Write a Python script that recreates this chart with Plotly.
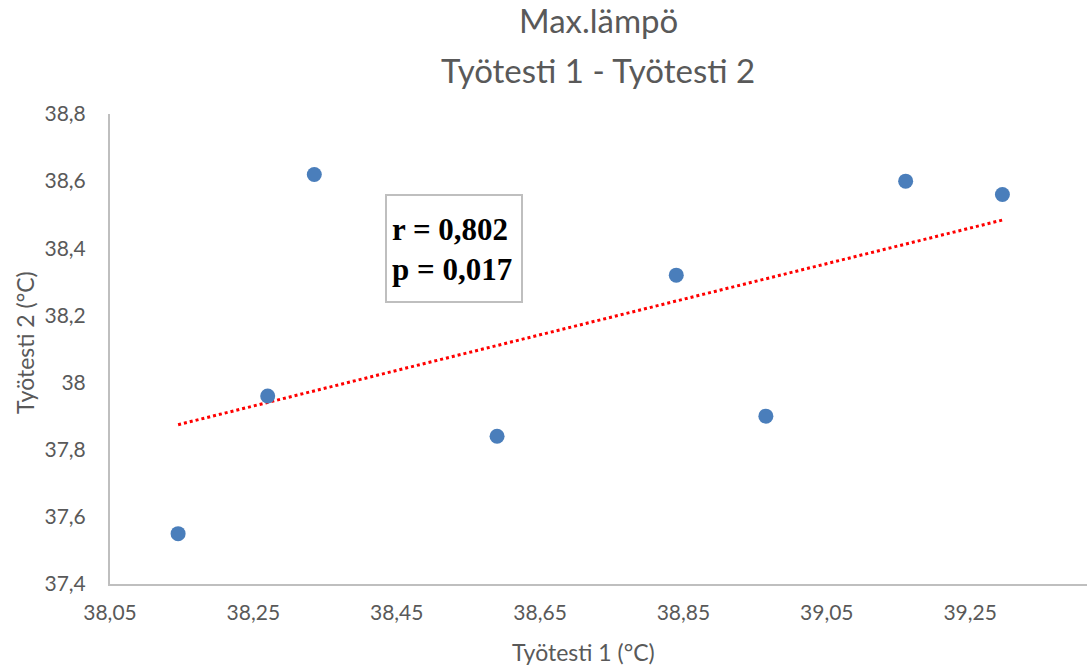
import numpy as np
import plotly.graph_objects as go

x_vals = [38.145, 38.27, 38.335, 38.59, 38.84, 38.965, 39.16, 39.295]
y_vals = [37.55, 37.96, 38.62, 37.84, 38.32, 37.90, 38.60, 38.56]
x_ticks = [38.05, 38.25, 38.45, 38.65, 38.85, 39.05, 39.25]
y_ticks = [37.4, 37.6, 37.8, 38.0, 38.2, 38.4, 38.6, 38.8]
title_lines = ["Max.lämpö", "Työtesti 1 - Työtesti 2"]
x_title = "Työtesti 1 (°C)"
y_title = "Työtesti 2 (°C)"
stats_text = ["r = 0,802", "p = 0,017"]

xa = np.array(x_vals)
ya = np.array(y_vals)
slope, intercept = np.polyfit(xa, ya, 1)
tx = np.array([xa.min(), xa.max()])
ty = slope * tx + intercept

fig = go.Figure()
fig.add_trace(go.Scatter(x=tx, y=ty, mode="lines",
                         line=dict(color="#FF0000", width=3, dash="dot"),
                         hoverinfo="skip", showlegend=False))
fig.add_trace(go.Scatter(x=x_vals, y=y_vals, mode="markers",
                         marker=dict(color="#4A7EBB", size=15),
                         showlegend=False))

font_main = "Lato, 'Open Sans', sans-serif"
grey = "#595959"
W, H, L, T, B = 1087, 671, 110, 114, 87
plot_h = H - T - B
plot_w = W - L


def px(xp):
    return (xp - L) / plot_w


def py(yp):
    return (H - B - yp) / plot_h


fig.update_layout(
    width=W, height=H,
    margin=dict(l=L, r=0, t=T, b=B),
    paper_bgcolor="white", plot_bgcolor="white",
    separators=", ",
    font=dict(family=font_main, color=grey, size=21),
    xaxis=dict(range=[38.05, 39.413], tickvals=x_ticks,
               ticktext=[f"{v:.2f}".replace(".", ",") for v in x_ticks],
               showgrid=False, zeroline=False, showline=True,
               linecolor="#BFBFBF", linewidth=2,
               ticks="outside", ticklen=9, tickcolor="rgba(0,0,0,0)",
               tickfont=dict(size=21, color=grey)),
    yaxis=dict(range=[37.4, 38.8], tickvals=y_ticks,
               ticktext=[(f"{v:.1f}".replace(".", ",") if abs(v - 38.0) > 1e-9 else "38") for v in y_ticks],
               showgrid=False, zeroline=False, showline=True,
               linecolor="#BFBFBF", linewidth=2,
               ticks="outside", ticklen=18, tickcolor="rgba(0,0,0,0)",
               tickfont=dict(size=21, color=grey)),
)

for txt, yp in zip(title_lines, [20, 70]):
    fig.add_annotation(x=px(598), y=py(yp), xref="paper", yref="paper",
                       xanchor="center", yanchor="middle", text=txt, showarrow=False,
                       font=dict(family=font_main, size=33, color=grey))

fig.add_annotation(x=px(583), y=py(652), xref="paper", yref="paper",
                   xanchor="center", yanchor="middle", text=x_title, showarrow=False,
                   font=dict(family=font_main, size=23, color=grey))
fig.add_annotation(x=px(25), y=py(343), xref="paper", yref="paper",
                   xanchor="center", yanchor="middle", text=y_title, showarrow=False,
                   textangle=-90, font=dict(family=font_main, size=23, color=grey))

# statistics box
fig.add_shape(type="rect", xref="paper", yref="paper",
              x0=px(386), x1=px(522), y0=py(302), y1=py(195),
              line=dict(color="#BFBFBF", width=2), fillcolor="white", layer="above")
fig.add_annotation(
    x=px(452), y=py(249), xref="paper", yref="paper",
    xanchor="center", yanchor="middle",
    text="<b>" + "<br>".join(stats_text) + "</b>",
    showarrow=False, align="left",
    font=dict(family="'Liberation Serif', 'Times New Roman', serif", size=31, color="#000000"),
)

fig.write_html("out.html")
